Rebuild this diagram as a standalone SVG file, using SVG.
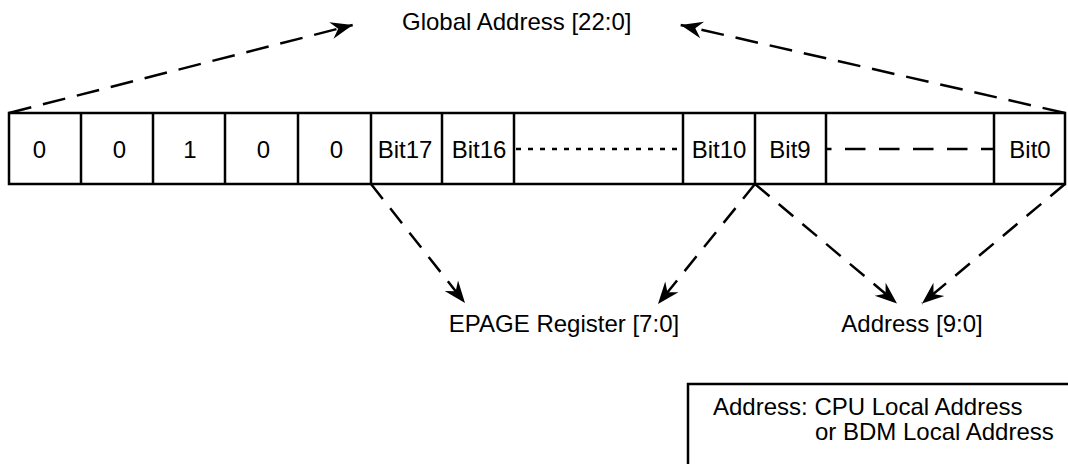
<svg xmlns="http://www.w3.org/2000/svg" width="1068" height="464" viewBox="0 0 1068 464">
<style>
text{font-family:"Liberation Sans",Arial,sans-serif;font-size:24px;fill:#000}
.c{text-anchor:middle}
.box{fill:none;stroke:#000;stroke-width:2.5}
.ln{stroke:#000;stroke-width:2.5}
.top{fill:none;stroke:#000;stroke-width:2.5;stroke-dasharray:23 12;marker-end:url(#ah)}
.dn{fill:none;stroke:#000;stroke-width:2.5;stroke-dasharray:19 12;marker-end:url(#ah)}
</style>
<defs>
<marker id="ah" markerUnits="userSpaceOnUse" markerWidth="28" markerHeight="22" viewBox="-24 -11 28 22" refX="0" refY="0" orient="auto">
<path d="M0,0 L-22,-8.5 L-15,0 L-22,8.5 Z" fill="#000"/>
</marker>
</defs>
<rect width="1068" height="464" fill="#fff"/>
<g id="register">
<rect class="box" x="9" y="113" width="1056" height="71"/>
<line class="ln" x1="81" y1="113" x2="81" y2="184"/>
<line class="ln" x1="153" y1="113" x2="153" y2="184"/>
<line class="ln" x1="225" y1="113" x2="225" y2="184"/>
<line class="ln" x1="298" y1="113" x2="298" y2="184"/>
<line class="ln" x1="371" y1="113" x2="371" y2="184"/>
<line class="ln" x1="442" y1="113" x2="442" y2="184"/>
<line class="ln" x1="514" y1="113" x2="514" y2="184"/>
<line class="ln" x1="683" y1="113" x2="683" y2="184"/>
<line class="ln" x1="755" y1="113" x2="755" y2="184"/>
<line class="ln" x1="826" y1="113" x2="826" y2="184"/>
<line class="ln" x1="994" y1="113" x2="994" y2="184"/>
<text class="c" x="39.5" y="158">0</text>
<text class="c" x="119.5" y="158">0</text>
<text class="c" x="190" y="158">1</text>
<text class="c" x="263.5" y="158">0</text>
<text class="c" x="336.5" y="158">0</text>
<text class="c" x="405" y="158">Bit17</text>
<text class="c" x="479" y="158">Bit16</text>
<text class="c" x="719" y="158">Bit10</text>
<text class="c" x="790" y="158">Bit9</text>
<text class="c" x="1030" y="158">Bit0</text>
<line x1="516" y1="149" x2="682" y2="149" stroke="#000" stroke-width="2.5" stroke-dasharray="5 7"/>
<line x1="826" y1="149" x2="994" y2="149" stroke="#000" stroke-width="2.5" stroke-dasharray="20.5 13.5" stroke-dashoffset="15"/>
</g>
<g id="global-address"><text x="402" y="30">Global Address [22:0]</text></g>
<g id="epage"><text class="c" x="564" y="331.5">EPAGE Register [7:0]</text></g>
<g id="address"><text class="c" x="912" y="331.5">Address [9:0]</text></g>
<g id="legend">
<rect class="box" x="688" y="384" width="400" height="100"/>
<text x="713" y="415">Address: CPU Local Address</text>
<text x="815" y="440">or BDM Local Address</text>
</g>
<g id="connectors">
<path class="top" d="M9,113 L352.7,25"/>
<path class="top" d="M1065,113 L680.7,25"/>
<path class="dn" d="M371,184 L465,303"/>
<path class="dn" d="M755,184 L658,304"/>
<path class="dn" d="M755,184 L897,303.5"/>
<path class="dn" d="M1065,184 L922,303.5"/>
</g>
</svg>
